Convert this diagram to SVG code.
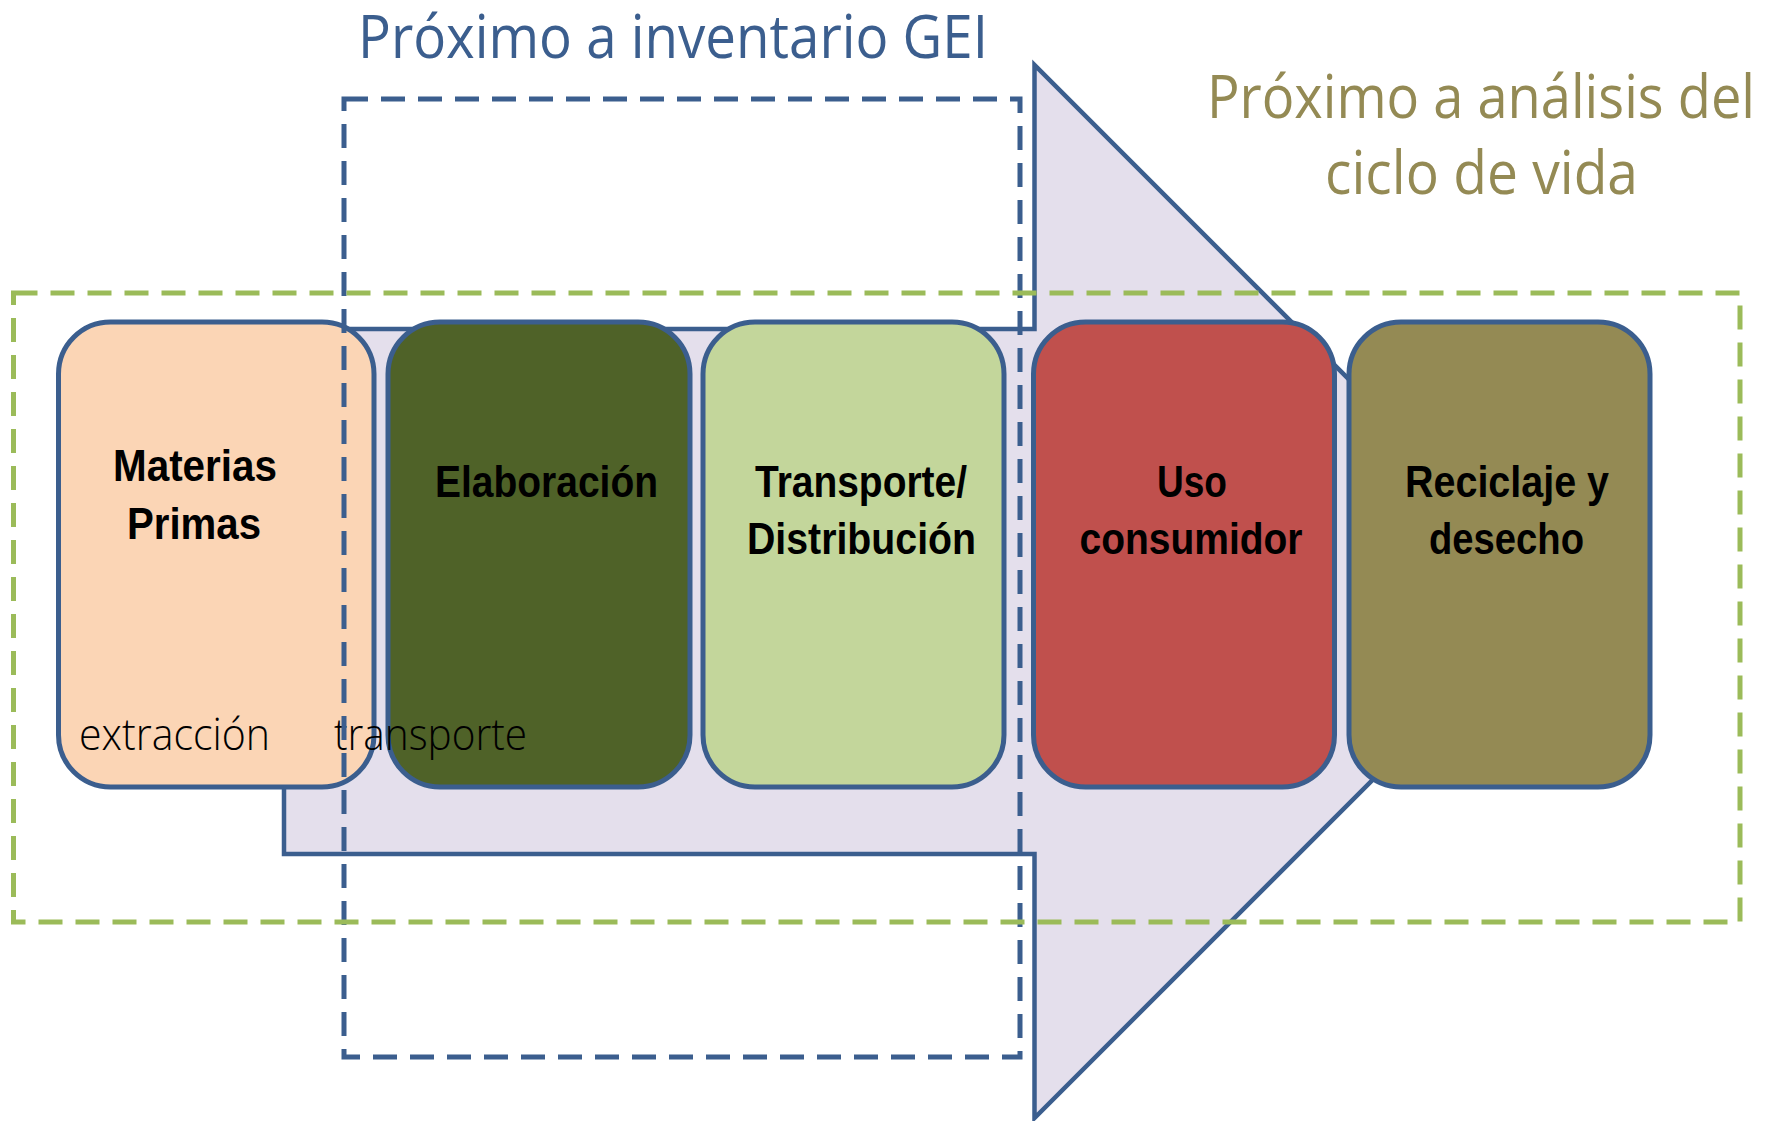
<svg xmlns="http://www.w3.org/2000/svg" width="1767" height="1121" viewBox="0 0 1767 1121">
<style>
.box{stroke:#3B5E8E;stroke-width:5}
.lbl{font-family:"Liberation Sans Narrow","Liberation Sans",Arial,sans-serif;font-weight:bold;font-size:45px;fill:#000;text-anchor:middle}
.lt{font-family:"Open Sans","Liberation Sans",sans-serif;font-weight:300;font-size:44px;fill:#000}
.ttl{font-family:"Open Sans","Liberation Sans",sans-serif;font-weight:400;font-size:60px}
.dash{fill:none;stroke-width:5;stroke-dasharray:24 13}
</style>
<rect width="1767" height="1121" fill="#ffffff"/>
<g id="arrow">
<polygon points="284,329 1034.5,329 1034.5,65 1561,591.5 1034.5,1118 1034.5,854 284,854" fill="#E4DFEC" stroke="#3B5E8E" stroke-width="4.5" stroke-linejoin="miter"/>
</g>
<g id="node-materias">
<rect class="box" x="58.5" y="322" width="315.5" height="465" rx="52" fill="#FBD5B5"/>
<text class="lbl" x="195" y="481" textLength="164" lengthAdjust="spacingAndGlyphs">Materias</text>
<text class="lbl" x="194" y="539" textLength="134" lengthAdjust="spacingAndGlyphs">Primas</text>
</g>
<g id="node-elaboracion">
<rect class="box" x="388" y="322" width="302" height="465" rx="52" fill="#4F6228"/>
<text class="lbl" x="546.5" y="497" textLength="223" lengthAdjust="spacingAndGlyphs">Elaboración</text>
</g>
<g id="node-transporte">
<rect class="box" x="703" y="322" width="301" height="465" rx="52" fill="#C3D69B"/>
<text class="lbl" x="861" y="497" textLength="212" lengthAdjust="spacingAndGlyphs">Transporte/</text>
<text class="lbl" x="861.5" y="554" textLength="229" lengthAdjust="spacingAndGlyphs">Distribución</text>
</g>
<g id="node-uso">
<rect class="box" x="1033.5" y="322" width="301" height="465" rx="52" fill="#C0504D"/>
<text class="lbl" x="1192" y="497" textLength="70" lengthAdjust="spacingAndGlyphs">Uso</text>
<text class="lbl" x="1191" y="554" textLength="223" lengthAdjust="spacingAndGlyphs">consumidor</text>
</g>
<g id="node-reciclaje">
<rect class="box" x="1349" y="322" width="301" height="465" rx="52" fill="#948A54"/>
<text class="lbl" x="1507" y="497" textLength="204" lengthAdjust="spacingAndGlyphs">Reciclaje y</text>
<text class="lbl" x="1506.5" y="554" textLength="155" lengthAdjust="spacingAndGlyphs">desecho</text>
</g>
<g id="labels">
<text class="lt" x="79" y="750" textLength="191" lengthAdjust="spacingAndGlyphs">extracción</text>
<text class="lt" x="334" y="750" textLength="193" lengthAdjust="spacingAndGlyphs">transporte</text>
</g>
<g id="boundaries">
<rect id="gei" class="dash" x="344" y="99" width="676" height="958" stroke="#3B5E8E"/>
<rect id="acv" class="dash" x="13.5" y="293" width="1726.5" height="629" stroke="#9BBB59"/>
</g>
<g id="titles">
<text class="ttl" x="358" y="58" fill="#3B5E8E" textLength="630" lengthAdjust="spacingAndGlyphs">Próximo a inventario GEI</text>
<text class="ttl" x="1207" y="118" fill="#948A54" textLength="548" lengthAdjust="spacingAndGlyphs">Próximo a análisis del</text>
<text class="ttl" x="1325" y="194" fill="#948A54" textLength="313" lengthAdjust="spacingAndGlyphs">ciclo de vida</text>
</g>
</svg>
